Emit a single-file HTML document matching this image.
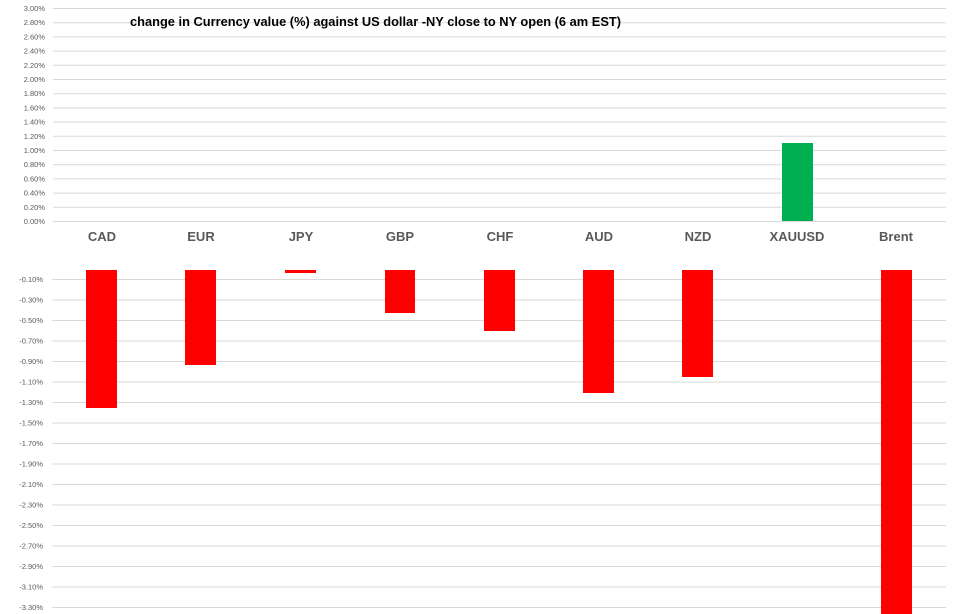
<!DOCTYPE html>
<html><head><meta charset="utf-8"><style>
html,body{margin:0;padding:0;background:#fff;width:975px;height:614px;overflow:hidden}
svg{display:block;font-family:"Liberation Sans",Arial,sans-serif}
</style></head><body>
<svg width="975" height="614" viewBox="0 0 975 614" xmlns="http://www.w3.org/2000/svg">
<g stroke="#d9d9d9" stroke-width="1">
<line x1="53" x2="946" y1="8.5" y2="8.5"/><line x1="53" x2="946" y1="22.7" y2="22.7"/><line x1="53" x2="946" y1="36.9" y2="36.9"/><line x1="53" x2="946" y1="51.1" y2="51.1"/><line x1="53" x2="946" y1="65.3" y2="65.3"/><line x1="53" x2="946" y1="79.5" y2="79.5"/><line x1="53" x2="946" y1="93.7" y2="93.7"/><line x1="53" x2="946" y1="107.9" y2="107.9"/><line x1="53" x2="946" y1="122.1" y2="122.1"/><line x1="53" x2="946" y1="136.3" y2="136.3"/><line x1="53" x2="946" y1="150.5" y2="150.5"/><line x1="53" x2="946" y1="164.7" y2="164.7"/><line x1="53" x2="946" y1="178.9" y2="178.9"/><line x1="53" x2="946" y1="193.1" y2="193.1"/><line x1="53" x2="946" y1="207.3" y2="207.3"/><line x1="53" x2="946" y1="221.5" y2="221.5"/>
<line x1="52" x2="946" y1="279.5" y2="279.5"/><line x1="52" x2="946" y1="300" y2="300"/><line x1="52" x2="946" y1="320.5" y2="320.5"/><line x1="52" x2="946" y1="341" y2="341"/><line x1="52" x2="946" y1="361.5" y2="361.5"/><line x1="52" x2="946" y1="382" y2="382"/><line x1="52" x2="946" y1="402.5" y2="402.5"/><line x1="52" x2="946" y1="423" y2="423"/><line x1="52" x2="946" y1="443.5" y2="443.5"/><line x1="52" x2="946" y1="464" y2="464"/><line x1="52" x2="946" y1="484.5" y2="484.5"/><line x1="52" x2="946" y1="505" y2="505"/><line x1="52" x2="946" y1="525.5" y2="525.5"/><line x1="52" x2="946" y1="546" y2="546"/><line x1="52" x2="946" y1="566.5" y2="566.5"/><line x1="52" x2="946" y1="587" y2="587"/><line x1="52" x2="946" y1="607.5" y2="607.5"/>
</g>
<g fill="#595959" font-size="7.5" text-anchor="end">
<text x="45" y="11">3.00%</text><text x="45" y="25.2">2.80%</text><text x="45" y="39.4">2.60%</text><text x="45" y="53.6">2.40%</text><text x="45" y="67.8">2.20%</text><text x="45" y="82">2.00%</text><text x="45" y="96.2">1.80%</text><text x="45" y="110.4">1.60%</text><text x="45" y="124.6">1.40%</text><text x="45" y="138.8">1.20%</text><text x="45" y="153">1.00%</text><text x="45" y="167.2">0.80%</text><text x="45" y="181.4">0.60%</text><text x="45" y="195.6">0.40%</text><text x="45" y="209.8">0.20%</text><text x="45" y="224">0.00%</text>
<text x="43" y="282">-0.10%</text><text x="43" y="302.5">-0.30%</text><text x="43" y="323">-0.50%</text><text x="43" y="343.5">-0.70%</text><text x="43" y="364">-0.90%</text><text x="43" y="384.5">-1.10%</text><text x="43" y="405">-1.30%</text><text x="43" y="425.5">-1.50%</text><text x="43" y="446">-1.70%</text><text x="43" y="466.5">-1.90%</text><text x="43" y="487">-2.10%</text><text x="43" y="507.5">-2.30%</text><text x="43" y="528">-2.50%</text><text x="43" y="548.5">-2.70%</text><text x="43" y="569">-2.90%</text><text x="43" y="589.5">-3.10%</text><text x="43" y="610">-3.30%</text>
</g>
<text x="130" y="26" font-size="13" font-weight="bold" fill="#000" textLength="491" lengthAdjust="spacingAndGlyphs">change in Currency value (%)  against US dollar -NY close to NY open (6 am EST)</text>
<g fill="#595959" font-size="13" font-weight="bold" text-anchor="middle">
<text x="102" y="241">CAD</text><text x="201" y="241">EUR</text><text x="301" y="241">JPY</text><text x="400" y="241">GBP</text><text x="500" y="241">CHF</text><text x="599" y="241">AUD</text><text x="698" y="241">NZD</text><text x="797" y="241">XAUUSD</text><text x="896" y="241">Brent</text>
</g>
<rect x="782" y="143" width="31" height="78" fill="#00b050"/>
<g fill="#ff0000">
<rect x="86" y="270" width="31" height="138"/><rect x="185" y="270" width="31" height="95"/><rect x="285" y="270" width="31" height="3"/><rect x="385" y="270" width="30" height="43"/><rect x="484" y="270" width="31" height="61"/><rect x="583" y="270" width="31" height="123"/><rect x="682" y="270" width="31" height="107"/><rect x="881" y="270" width="31" height="344"/>
</g>
</svg>
</body></html>
